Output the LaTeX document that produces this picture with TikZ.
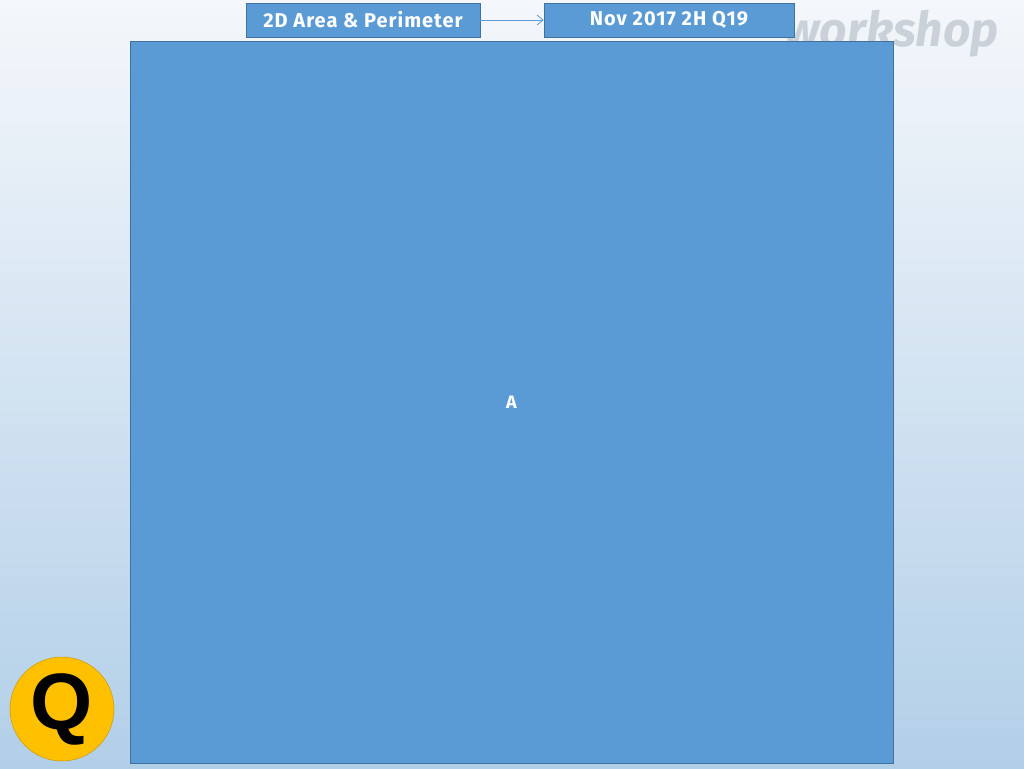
\documentclass[tikz,border=0pt]{standalone}
\usepackage{fontspec}
\setmainfont{Liberation Sans}
\newfontfamily\labelfont{Fira Sans}
\newfontfamily\boxfont[LetterSpace=5]{Fira Sans}
\usetikzlibrary{arrows.meta}
\definecolor{boxblue}{HTML}{5B9BD5}
\definecolor{boxedge}{HTML}{41719C}
\definecolor{bgtop}{HTML}{F4F7FB}
\definecolor{bgbot}{HTML}{B2CFE8}
\definecolor{qgold}{HTML}{FFC000}
\definecolor{wmgray}{HTML}{CAD1D9}
\tikzset{
  topbox/.style={draw=boxedge, line width=0.8pt, fill=boxblue, text=white, font=\boxfont\bfseries\fontsize{20}{22}\selectfont, minimum height=34pt, inner sep=0pt},
  bigbox/.style={draw=boxedge, line width=0.8pt, fill=boxblue},
  link/.style={draw=boxblue, line width=0.8pt, -{Straight Barb[length=6pt,width=10pt]}}
}
\begin{document}
\begin{tikzpicture}[x=1pt,y=-1pt]
\useasboundingbox (0,0) rectangle (1024,768);
\shade[top color=bgtop, bottom color=bgbot] (0,0) rectangle (1024,768);
\node[anchor=base west, text=wmgray, font=\labelfont\bfseries\itshape\fontsize{48}{48}\selectfont, inner sep=0pt] (wm) at (784,46) {workshop};
\node[topbox, minimum width=234pt] (topic) at (363,20) {2D Area \& Perimeter};
\node[topbox, minimum width=250pt] (paper) at (669,20) {Nov 2017 2H Q19};
\draw[link] (topic.east) -- (paper.west);
\node[bigbox, minimum width=763pt, minimum height=722pt, inner sep=0pt] (main) at (511.5,402) {};
\node[text=white, font=\labelfont\bfseries\fontsize{18}{20}\selectfont] (lblA) at (main.center) {A};
\node[circle, draw=qgold!80!black, line width=0.5pt, fill=qgold, minimum size=104pt, inner sep=0pt, font=\bfseries\fontsize{80}{80}\selectfont] (q) at (62,709) {Q};
\end{tikzpicture}
\end{document}
